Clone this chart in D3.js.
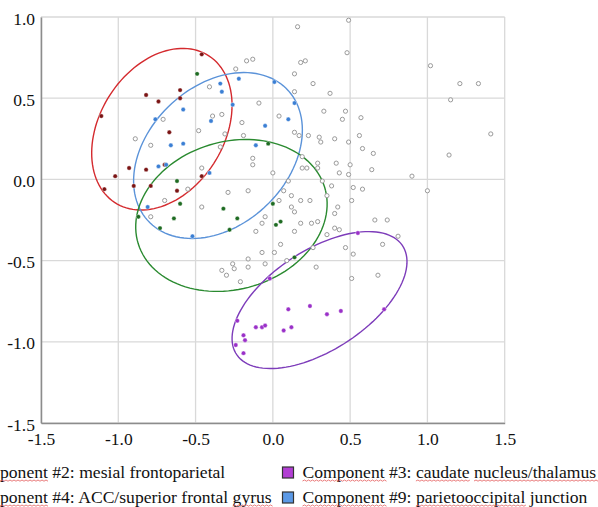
<html>
<head>
<meta charset="utf-8">
<style>
body { margin: 0; background: #fff; overflow: hidden; }
text { font-family: "Liberation Serif", "Times New Roman", serif; }
</style>
</head>
<body>
<svg></svg>
<script src="https://d3js.org/d3.v7.min.js"></script>
<script>
var xTicks = [-1.5, -1.0, -0.5, 0.0, 0.5, 1.0, 1.5];
var yTicks = [-1.5, -1.0, -0.5, 0.0, 0.5, 1.0];

// unassigned components (open circles)
var otherPts = [
  [-0.24,0.68],[-0.41,0.57],[-0.39,0.39],[-0.33,0.40],[-0.71,0.37],[-0.48,0.30],[-0.89,0.25],[-0.79,0.21],
  [-0.31,0.28],[-0.34,0.20],[-0.46,0.07],[-0.55,-0.06],[-0.29,-0.08],[-0.70,-0.13],[-0.46,-0.17],[-0.79,-0.23],
  [-0.17,0.73],[-0.13,0.74],[0.18,0.72],[0.21,0.73],[0.14,0.65],[0.26,0.59],[-0.09,0.47],[0.33,0.42],
  [-0.20,0.35],[0.04,0.39],[-0.19,0.27],[0.14,0.29],[0.17,0.27],[0.23,0.27],[0.30,0.26],[0.31,0.23],
  [-0.13,0.13],[-0.13,0.09],[0.19,0.14],[0.19,0.07],[0.22,0.07],[0.29,0.07],[0.00,0.04],[-0.16,-0.07],
  [0.10,-0.01],[0.12,-0.10],[0.18,-0.13],[0.24,-0.13],[0.35,-0.10],[0.04,-0.13],[0.12,-0.17],[0.14,-0.20],
  [-0.05,-0.23],[-0.07,-0.27],[0.18,-0.27],[0.25,-0.27],[0.29,-0.26],[-0.11,-0.32],[0.14,-0.32],[0.35,-0.34],
  [0.05,-0.40],[-0.07,-0.45],[0.01,-0.45],[-0.16,-0.49],[0.26,-0.42],[0.16,0.94],[0.49,0.98],[0.48,0.78],
  [1.02,0.70],[1.21,0.59],[1.33,0.59],[0.14,0.54],[0.37,0.53],[1.15,0.49],[0.47,0.42],[0.45,0.37],
  [0.57,0.38],[1.41,0.28],[0.40,0.25],[0.56,0.27],[0.49,0.23],[0.58,0.19],[0.65,0.16],[1.14,0.15],
  [0.41,0.10],[0.50,0.09],[0.43,0.04],[0.64,0.06],[0.49,0.03],[0.90,0.02],[0.32,-0.01],[1.00,-0.07],
  [0.38,-0.04],[0.52,-0.05],[0.58,-0.06],[0.07,-0.07],[0.51,-0.13],[0.42,-0.17],[0.40,-0.21],[0.66,-0.25],
  [0.74,-0.25],[0.40,-0.30],[0.43,-0.31],[0.81,-0.35],[0.71,-0.40],[0.47,-0.42],[0.52,-0.46],[-0.26,-0.52],
  [-0.33,-0.56],[-0.25,-0.55],[-0.30,-0.59],[-0.16,-0.54],[-0.05,-0.52],[0.09,-0.50],[0.28,-0.54],[0.51,-0.61],
  [0.68,-0.59],[-0.21,-0.63],[0.29,0.10]
];
// Component #2: mesial frontoparietal
var comp2Pts = [
  [-0.46,0.77],[-0.82,0.52],[-0.74,0.48],[-0.60,0.55],[-0.60,0.50],[-1.11,0.39],[-0.67,0.29],[-0.70,0.09],
  [-0.93,0.07],[-0.82,0.06],[-1.02,0.02],[-0.46,0.02],[-0.90,-0.04],[-0.79,-0.04],[-1.09,-0.06],[-0.62,-0.07]
];
// Component #4: ACC/superior frontal gyrus
var comp4Pts = [
  [-0.49,0.65],[-0.62,-0.01],[-0.60,-0.15],[-0.32,-0.18],[-0.64,-0.24],[-0.87,-0.23],[-0.73,-0.30],[-0.28,-0.31],
  [-0.03,0.22],[-0.23,-0.24],[0.00,-0.15],[0.02,-0.28],[0.05,-0.26],[0.14,-0.48]
];
// Component #9: parietooccipital junction
var comp9Pts = [
  [-0.34,0.59],[-0.33,0.54],[-0.22,0.62],[-0.26,0.46],[-0.58,0.43],[-0.76,0.37],[-0.66,0.21],[-0.58,0.22],
  [-0.74,0.08],[-0.69,0.09],[-0.41,0.04],[-0.81,-0.17],[0.01,0.60],[0.14,0.47],[-0.40,0.36],[0.10,0.37],
  [-0.05,0.33],[-0.11,0.21],[-0.52,-0.35]
];
// Component #3: caudate nucleus/thalamus
var comp3Pts = [
  [0.55,-0.33],[-0.02,-0.61],[0.10,-0.80],[0.24,-0.78],[0.35,-0.83],[0.44,-0.81],[0.72,-0.80],[-0.23,-0.87],
  [-0.11,-0.91],[-0.07,-0.91],[-0.05,-0.90],[0.12,-0.91],[0.07,-0.93],[-0.19,-0.96],[-0.18,-0.99],[-0.24,-1.02],
  [-0.19,-1.07]
];

// ellipses: centre x, centre y, semi-axes, rotation (deg) in data units
var ellipseNames = ["comp2", "comp9", "comp4", "comp3"];
var ellipseCx = [-0.718, -0.355, -0.268, 0.302];
var ellipseCy = [0.309, 0.147, -0.222, -0.743];
var ellipseA = [0.545, 0.606, 0.628, 0.633];
var ellipseB = [0.396, 0.438, 0.456, 0.312];
var ellipseRot = [53.6, 38.9, 14, 31];
var ellipseColors = ["#d42a2e", "#5b93d9", "#2a8a30", "#7d3cba"];

var legendLabels = ["Component #2: mesial frontoparietal", "Component #3: caudate nucleus/thalamus",
                    "Component #4: ACC/superior frontal gyrus", "Component #9: parietooccipital junction"];
var legendColors = ["#d42a2e", "#b23fd4", "#2a8a30", "#5b99e6"];
var squiggleWords = [["Component"], ["Component", "caudate", "nucleus/thalamus"],
                     ["Component", "gyrus"], ["Component", "parietooccipital"]];

var W = 598, H = 507;
var svg = d3.select("svg").attr("width", W).attr("height", H);

var x = d3.scaleLinear().domain([-1.5, 1.5]).range([41, 504.7]);
var y = d3.scaleLinear().domain([-1.5, 1.0]).range([423, 17]);

// grid
svg.append("g").selectAll("line").data(xTicks).enter().append("line")
  .attr("x1", d => x(d)).attr("x2", d => x(d)).attr("y1", y(1.0)).attr("y2", y(-1.5))
  .attr("stroke", "#d9d9d9").attr("stroke-width", 1.3);
svg.append("g").selectAll("line").data(yTicks).enter().append("line")
  .attr("x1", x(-1.5)).attr("x2", x(1.5)).attr("y1", d => y(d)).attr("y2", d => y(d))
  .attr("stroke", "#d9d9d9").attr("stroke-width", 1.3);

// axes (plain hyphen as minus, like the original)
var fmt = d3.formatLocale({decimal: ".", thousands: ",", grouping: [3], currency: ["", ""], minus: "-"}).format(".1f");
var xAxis = svg.append("g").attr("transform", "translate(0," + y(-1.5) + ")")
  .call(d3.axisBottom(x).tickValues(xTicks).tickFormat(fmt).tickSize(0).tickPadding(10));
var yAxis = svg.append("g").attr("transform", "translate(" + x(-1.5) + ",0)")
  .call(d3.axisLeft(y).tickValues(yTicks).tickFormat(fmt).tickSize(0).tickPadding(6));
[xAxis, yAxis].forEach(function(g) {
  g.attr("font-family", null);
  g.select(".domain").attr("stroke", "#8c8c8c").attr("stroke-width", 1.5);
  g.selectAll("text").style("font-family", "'Liberation Serif', 'Times New Roman', serif")
    .attr("font-size", 17.5).attr("fill", "#111");
});
yAxis.selectAll("text").attr("dy", "0.4em");

// ellipses
var ang = d3.range(0, 121).map(i => i / 120 * 2 * Math.PI);
var line = d3.line().x(d => x(d[0])).y(d => y(d[1]));
ellipseNames.forEach(function(n, i) {
  var th = ellipseRot[i] * Math.PI / 180;
  var pts = ang.map(function(t) {
    var dx = ellipseA[i] * Math.cos(t), dy = ellipseB[i] * Math.sin(t);
    return [ellipseCx[i] + dx * Math.cos(th) - dy * Math.sin(th),
            ellipseCy[i] + dx * Math.sin(th) + dy * Math.cos(th)];
  });
  svg.append("path").attr("d", line(pts)).attr("fill", "none")
    .attr("stroke", ellipseColors[i]).attr("stroke-width", 1.4);
});

// points
svg.append("g").selectAll("circle").data(otherPts).enter().append("circle")
  .attr("cx", d => x(d[0])).attr("cy", d => y(d[1])).attr("r", 2.1)
  .attr("fill", "#fff").attr("stroke", "#9a9a9a").attr("stroke-width", 1);
var groups = [[comp2Pts, "#7a1414"], [comp4Pts, "#1e6b22"], [comp9Pts, "#3b7fd4"], [comp3Pts, "#9a30c8"]];
groups.forEach(function(g) {
  svg.append("g").selectAll("circle").data(g[0]).enter().append("circle")
    .attr("cx", d => x(d[0])).attr("cy", d => y(d[1])).attr("r", 2.2)
    .attr("fill", g[1]).attr("stroke", "#fff").attr("stroke-width", 0.4);
});

// legend
var rowY = [478, 503];
var legend = svg.append("g");
legendLabels.forEach(function(lab, i) {
  var row = Math.floor(i / 2), col = i % 2;
  var t = legend.append("text").attr("x", 0).attr("y", rowY[row])
    .style("font-family", "'Liberation Serif', 'Times New Roman', serif")
    .attr("font-size", 17.6).attr("fill", "#111").text(lab);
  var tx = col === 0 ? -t.node().getSubStringLength(0, 3) : 302.5;
  t.attr("x", tx);
  legend.append("rect").attr("x", tx - 20).attr("y", rowY[row] - 11).attr("width", 11).attr("height", 11)
    .attr("fill", legendColors[i]).attr("stroke", "#333").attr("stroke-width", 1.2);
  // spell-check squiggles
  squiggleWords[i].forEach(function(w) {
    var s = lab.indexOf(w);
    var x0 = tx + t.node().getSubStringLength(0, s);
    var len = t.node().getSubStringLength(s, w.length);
    if (x0 < 0) { len = len + x0; x0 = 0; }
    var d = "M" + x0 + "," + (rowY[row] + 3);
    for (var k = 0; k * 2 < len; k++) {
      d += "L" + (x0 + (k + 1) * 2) + "," + (rowY[row] + (k % 2 === 0 ? 2 : 3.2));
    }
    legend.append("path").attr("d", d).attr("fill", "none").attr("stroke", "#e35b5b").attr("stroke-width", 0.8);
  });
});
</script>
</body>
</html>
